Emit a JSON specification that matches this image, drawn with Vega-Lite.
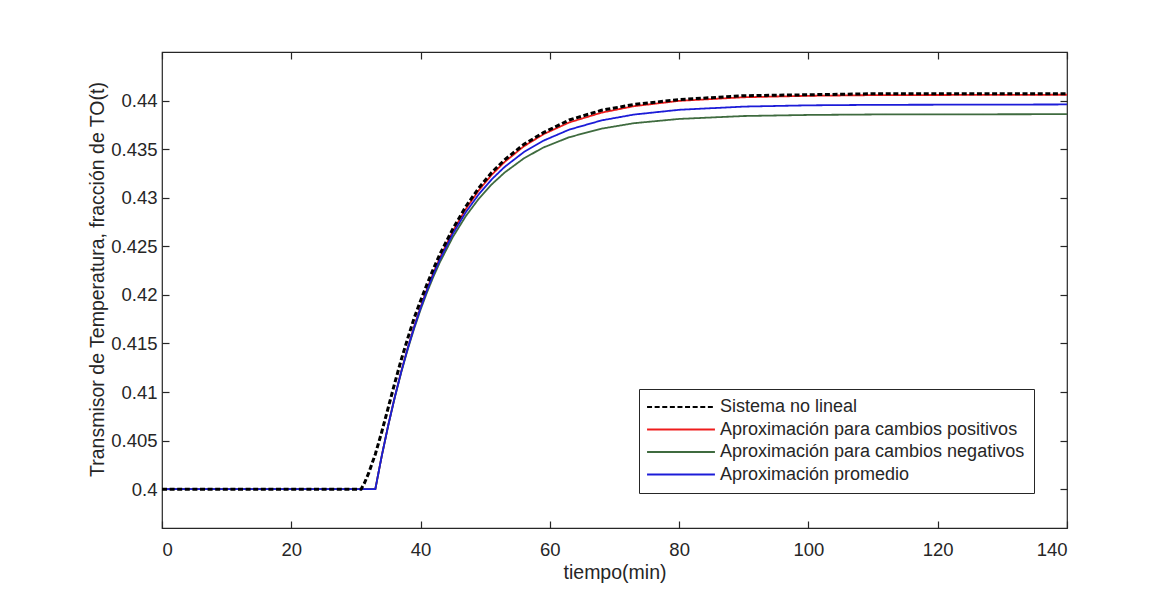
{
  "$schema": "https://vega.github.io/schema/vega-lite/v6.json",
  "width": 905,
  "height": 476,
  "autosize": {"type": "none"},
  "padding": {"left": 162, "top": 52, "right": 95, "bottom": 64},
  "background": "white",
  "config": {
    "view": {"stroke": "#262626", "strokeWidth": 1.2},
    "font": "Liberation Sans",
    "axis": {
      "domain": false,
      "grid": false,
      "tickColor": "#262626",
      "tickSize": -7,
      "tickWidth": 1.2,
      "labelColor": "#262626",
      "titleColor": "#262626",
      "labelFont": "Liberation Sans",
      "titleFont": "Liberation Sans",
      "labelFontSize": 18.5,
      "titleFontSize": 19.5,
      "titleFontWeight": "normal"
    },
    "legend": {
      "orient": "none",
      "legendX": 477,
      "legendY": 337,
      "strokeColor": "#262626",
      "fillColor": "#ffffff",
      "padding": 9,
      "symbolType": "M-6,0H6",
      "symbolSize": 128,
      "symbolStrokeWidth": 2.2,
      "symbolOffset": 24,
      "labelOffset": 30,
      "labelLimit": 500,
      "labelFont": "Liberation Sans",
      "labelFontSize": 18,
      "labelColor": "#262626",
      "rowPadding": 4.5
    }
  },
  "layer": [
    {
      "data": {
        "values": [
          {"t": 0, "v": 0.4, "s": "Aproximación para cambios positivos"},
          {"t": 33, "v": 0.4, "s": "Aproximación para cambios positivos"},
          {"t": 34, "v": 0.40344, "s": "Aproximación para cambios positivos"},
          {"t": 35, "v": 0.40659, "s": "Aproximación para cambios positivos"},
          {"t": 36, "v": 0.40947, "s": "Aproximación para cambios positivos"},
          {"t": 37, "v": 0.4121, "s": "Aproximación para cambios positivos"},
          {"t": 38, "v": 0.41452, "s": "Aproximación para cambios positivos"},
          {"t": 39, "v": 0.41673, "s": "Aproximación para cambios positivos"},
          {"t": 40, "v": 0.41875, "s": "Aproximación para cambios positivos"},
          {"t": 41, "v": 0.4206, "s": "Aproximación para cambios positivos"},
          {"t": 42, "v": 0.42229, "s": "Aproximación para cambios positivos"},
          {"t": 43, "v": 0.42384, "s": "Aproximación para cambios positivos"},
          {"t": 45, "v": 0.42656, "s": "Aproximación para cambios positivos"},
          {"t": 47, "v": 0.42884, "s": "Aproximación para cambios positivos"},
          {"t": 49, "v": 0.43075, "s": "Aproximación para cambios positivos"},
          {"t": 51, "v": 0.43235, "s": "Aproximación para cambios positivos"},
          {"t": 53, "v": 0.43368, "s": "Aproximación para cambios positivos"},
          {"t": 56, "v": 0.4353, "s": "Aproximación para cambios positivos"},
          {"t": 59, "v": 0.43653, "s": "Aproximación para cambios positivos"},
          {"t": 63, "v": 0.43775, "s": "Aproximación para cambios positivos"},
          {"t": 68, "v": 0.43876, "s": "Aproximación para cambios positivos"},
          {"t": 73, "v": 0.43942, "s": "Aproximación para cambios positivos"},
          {"t": 80, "v": 0.43997, "s": "Aproximación para cambios positivos"},
          {"t": 90, "v": 0.44034, "s": "Aproximación para cambios positivos"},
          {"t": 100, "v": 0.44049, "s": "Aproximación para cambios positivos"},
          {"t": 110, "v": 0.44056, "s": "Aproximación para cambios positivos"},
          {"t": 140, "v": 0.4406, "s": "Aproximación para cambios positivos"},
          {"t": 0, "v": 0.4, "s": "Aproximación para cambios negativos"},
          {"t": 33, "v": 0.4, "s": "Aproximación para cambios negativos"},
          {"t": 34, "v": 0.40343, "s": "Aproximación para cambios negativos"},
          {"t": 35, "v": 0.40655, "s": "Aproximación para cambios negativos"},
          {"t": 36, "v": 0.4094, "s": "Aproximación para cambios negativos"},
          {"t": 37, "v": 0.41199, "s": "Aproximación para cambios negativos"},
          {"t": 38, "v": 0.41436, "s": "Aproximación para cambios negativos"},
          {"t": 39, "v": 0.41651, "s": "Aproximación para cambios negativos"},
          {"t": 40, "v": 0.41847, "s": "Aproximación para cambios negativos"},
          {"t": 41, "v": 0.42026, "s": "Aproximación para cambios negativos"},
          {"t": 42, "v": 0.42189, "s": "Aproximación para cambios negativos"},
          {"t": 43, "v": 0.42337, "s": "Aproximación para cambios negativos"},
          {"t": 45, "v": 0.42596, "s": "Aproximación para cambios negativos"},
          {"t": 47, "v": 0.42811, "s": "Aproximación para cambios negativos"},
          {"t": 49, "v": 0.42989, "s": "Aproximación para cambios negativos"},
          {"t": 51, "v": 0.43137, "s": "Aproximación para cambios negativos"},
          {"t": 53, "v": 0.43259, "s": "Aproximación para cambios negativos"},
          {"t": 56, "v": 0.43406, "s": "Aproximación para cambios negativos"},
          {"t": 59, "v": 0.43517, "s": "Aproximación para cambios negativos"},
          {"t": 63, "v": 0.43623, "s": "Aproximación para cambios negativos"},
          {"t": 68, "v": 0.43711, "s": "Aproximación para cambios negativos"},
          {"t": 73, "v": 0.43767, "s": "Aproximación para cambios negativos"},
          {"t": 80, "v": 0.43811, "s": "Aproximación para cambios negativos"},
          {"t": 90, "v": 0.43841, "s": "Aproximación para cambios negativos"},
          {"t": 100, "v": 0.43852, "s": "Aproximación para cambios negativos"},
          {"t": 110, "v": 0.43857, "s": "Aproximación para cambios negativos"},
          {"t": 140, "v": 0.4386, "s": "Aproximación para cambios negativos"},
          {"t": 0, "v": 0.4, "s": "Aproximación promedio"},
          {"t": 33, "v": 0.4, "s": "Aproximación promedio"},
          {"t": 34, "v": 0.40344, "s": "Aproximación promedio"},
          {"t": 35, "v": 0.40658, "s": "Aproximación promedio"},
          {"t": 36, "v": 0.40945, "s": "Aproximación promedio"},
          {"t": 37, "v": 0.41207, "s": "Aproximación promedio"},
          {"t": 38, "v": 0.41446, "s": "Aproximación promedio"},
          {"t": 39, "v": 0.41665, "s": "Aproximación promedio"},
          {"t": 40, "v": 0.41864, "s": "Aproximación promedio"},
          {"t": 41, "v": 0.42047, "s": "Aproximación promedio"},
          {"t": 42, "v": 0.42213, "s": "Aproximación promedio"},
          {"t": 43, "v": 0.42365, "s": "Aproximación promedio"},
          {"t": 45, "v": 0.4263, "s": "Aproximación promedio"},
          {"t": 47, "v": 0.42851, "s": "Aproximación promedio"},
          {"t": 49, "v": 0.43035, "s": "Aproximación promedio"},
          {"t": 51, "v": 0.43189, "s": "Aproximación promedio"},
          {"t": 53, "v": 0.43317, "s": "Aproximación promedio"},
          {"t": 56, "v": 0.43471, "s": "Aproximación promedio"},
          {"t": 59, "v": 0.43587, "s": "Aproximación promedio"},
          {"t": 63, "v": 0.43701, "s": "Aproximación promedio"},
          {"t": 68, "v": 0.43796, "s": "Aproximación promedio"},
          {"t": 73, "v": 0.43856, "s": "Aproximación promedio"},
          {"t": 80, "v": 0.43905, "s": "Aproximación promedio"},
          {"t": 90, "v": 0.43938, "s": "Aproximación promedio"},
          {"t": 100, "v": 0.43951, "s": "Aproximación promedio"},
          {"t": 110, "v": 0.43956, "s": "Aproximación promedio"},
          {"t": 140, "v": 0.4396, "s": "Aproximación promedio"},
          {"t": 0, "v": 0.4, "s": "Sistema no lineal"},
          {"t": 30.8, "v": 0.4, "s": "Sistema no lineal"},
          {"t": 31.3, "v": 0.4006, "s": "Sistema no lineal"},
          {"t": 32, "v": 0.4017, "s": "Sistema no lineal"},
          {"t": 33, "v": 0.4036, "s": "Sistema no lineal"},
          {"t": 34, "v": 0.4059, "s": "Sistema no lineal"},
          {"t": 35, "v": 0.4084, "s": "Sistema no lineal"},
          {"t": 36, "v": 0.4109, "s": "Sistema no lineal"},
          {"t": 37, "v": 0.4133, "s": "Sistema no lineal"},
          {"t": 38, "v": 0.4155, "s": "Sistema no lineal"},
          {"t": 39, "v": 0.4176, "s": "Sistema no lineal"},
          {"t": 40, "v": 0.4194, "s": "Sistema no lineal"},
          {"t": 41, "v": 0.4211, "s": "Sistema no lineal"},
          {"t": 42, "v": 0.4227, "s": "Sistema no lineal"},
          {"t": 43, "v": 0.4242, "s": "Sistema no lineal"},
          {"t": 45, "v": 0.4268, "s": "Sistema no lineal"},
          {"t": 47, "v": 0.4291, "s": "Sistema no lineal"},
          {"t": 49, "v": 0.431, "s": "Sistema no lineal"},
          {"t": 51, "v": 0.4326, "s": "Sistema no lineal"},
          {"t": 53, "v": 0.4339, "s": "Sistema no lineal"},
          {"t": 56, "v": 0.4355, "s": "Sistema no lineal"},
          {"t": 59, "v": 0.4367, "s": "Sistema no lineal"},
          {"t": 63, "v": 0.438, "s": "Sistema no lineal"},
          {"t": 68, "v": 0.439, "s": "Sistema no lineal"},
          {"t": 73, "v": 0.4396, "s": "Sistema no lineal"},
          {"t": 80, "v": 0.4401, "s": "Sistema no lineal"},
          {"t": 90, "v": 0.4405, "s": "Sistema no lineal"},
          {"t": 100, "v": 0.4406, "s": "Sistema no lineal"},
          {"t": 110, "v": 0.4407, "s": "Sistema no lineal"},
          {"t": 140, "v": 0.4407, "s": "Sistema no lineal"}
        ]
      },
      "encoding": {
        "x": {
          "field": "t",
          "type": "quantitative",
          "scale": {"domain": [0, 140], "nice": false},
          "axis": {
            "values": [0, 20, 40, 60, 80, 100, 120, 140],
            "title": "tiempo(min)",
            "labelPadding": 19,
            "titlePadding": 5
          }
        },
        "y": {
          "field": "v",
          "type": "quantitative",
          "scale": {"domain": [0.396, 0.445], "nice": false, "zero": false},
          "axis": {
            "values": [0.4, 0.405, 0.41, 0.415, 0.42, 0.425, 0.43, 0.435, 0.44],
            "format": ".3~f",
            "title": "Transmisor de Temperatura, fracción de TO(t)",
            "labelPadding": 12,
            "titleX": -55,
            "titleY": 227,
            "titleAngle": -90,
            "titleBaseline": "bottom",
            "titleAlign": "center"
          }
        },
        "color": {
          "field": "s",
          "type": "nominal",
          "scale": {
            "domain": ["Sistema no lineal", "Aproximación para cambios positivos", "Aproximación para cambios negativos", "Aproximación promedio"],
            "range": ["#000000", "#ee1c1c", "#3f6b3f", "#1c1cd8"]
          },
          "legend": {"title": null}
        },
        "strokeDash": {
          "field": "s",
          "type": "nominal",
          "scale": {
            "domain": ["Sistema no lineal", "Aproximación para cambios positivos", "Aproximación para cambios negativos", "Aproximación promedio"],
            "range": [[5, 2.6], [1, 0], [1, 0], [1, 0]]
          },
          "legend": {"title": null}
        }
      },
      "layer": [
        {
          "transform": [{"filter": "datum.s != 'Sistema no lineal'"}],
          "mark": {"type": "line", "strokeWidth": 1.8}
        },
        {
          "transform": [{"filter": "datum.s == 'Sistema no lineal'"}],
          "mark": {"type": "line", "strokeWidth": 3}
        }
      ]
    },
    {
      "data": {"values": [{"t": 0, "v": 0.4}]},
      "mark": {"type": "point", "opacity": 0},
      "encoding": {
        "x": {
          "field": "t",
          "type": "quantitative",
          "scale": {"domain": [0, 140], "nice": false},
          "axis": {"orient": "top", "values": [0, 20, 40, 60, 80, 100, 120, 140], "labels": false, "title": null}
        },
        "y": {
          "field": "v",
          "type": "quantitative",
          "scale": {"domain": [0.396, 0.445], "nice": false, "zero": false},
          "axis": {"orient": "right", "values": [0.4, 0.405, 0.41, 0.415, 0.42, 0.425, 0.43, 0.435, 0.44], "labels": false, "title": null}
        }
      }
    }
  ],
  "resolve": {"scale": {"x": "independent", "y": "independent"}}
}
